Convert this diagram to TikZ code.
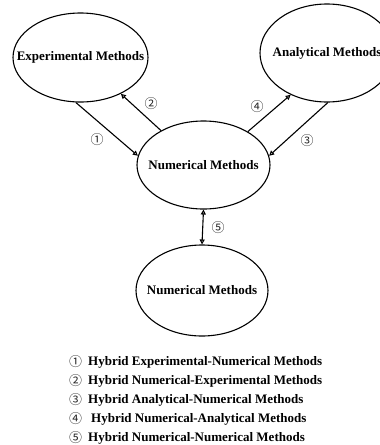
\documentclass[tikz,border=0pt]{standalone}
\usepackage{fontspec}
\setmainfont{Liberation Serif}
\newfontfamily\cjk{Noto Sans CJK SC}
\providecommand{\hmStroke}{black}
\providecommand{\hmFill}{white}
\usetikzlibrary{arrows.meta,shapes.geometric}
\tikzset{
  >={Triangle[open,length=5pt,width=5pt]},
  % method ellipse: width and height passed as two args
  meth/.style 2 args={draw=\hmStroke,ellipse,line width=1.1pt,fill=\hmFill,inner sep=0pt,minimum width=#1,minimum height=#2},
  methtxt/.style={font=\fontsize{13}{15}\selectfont\bfseries,inner sep=0pt},
  circnum/.style={font=\cjk\fontsize{13}{15}\selectfont,text=black!85,inner sep=0pt},
  legtxt/.style={anchor=west,font=\fontsize{13}{15}\selectfont\bfseries,inner sep=0pt},
  conn/.style={draw=\hmStroke,->,line width=1.1pt},
  biconn/.style={draw=\hmStroke,<->,line width=1.1pt},
}
\begin{document}
\begin{tikzpicture}[x=1pt,y=-1pt]
\useasboundingbox (0,0) rectangle (380,445);
% --- Method ellipses -------------------------------------------------------

  \node[meth={135pt}{89pt},label={[methtxt]center:Experimental Methods}] (exp) at (80.5,57.5) {};

  \node[meth={134pt}{98pt},label={[methtxt]center:Analytical Methods}] (ana) at (327,53) {};

  \node[meth={133pt}{88pt},label={[methtxt]center:Numerical Methods}] (num) at (203.5,165) {};

  \node[meth={132pt}{91pt},label={[methtxt]center:Numerical Methods}] (num2) at (202,290.5) {};

% --- Edges -----------------------------------------------------------------

  \path[conn] (exp.-96) -- (num.172);

  \path[conn] (num.141) -- (exp.-42);

  \path[conn] (num.37) -- (ana.229);

  \path[conn] (ana.-89) -- (num.8);

  \path[biconn] (num.south) -- (num2.north);

% --- Edge numbers ----------------------------------------------------------

  \node[circnum] (n1) at (97,140) {①};
  \node[circnum] (n2) at (151,104) {②};
  \node[circnum] (n3) at (307,141) {③};
  \node[circnum] (n4) at (257,107) {④};
  \node[circnum] (n5) at (218,228) {⑤};

% --- Legend ----------------------------------------------------------------

  \node[circnum] (k1) at (75.5,362) {①};
  \node[legtxt] (leg1) at (88,362) {Hybrid Experimental-Numerical Methods};

  \node[circnum] (k2) at (75.5,381) {②};
  \node[legtxt] (leg2) at (88,381) {Hybrid Numerical-Experimental Methods};

  \node[circnum] (k3) at (75.5,400) {③};
  \node[legtxt] (leg3) at (88,400) {Hybrid Analytical-Numerical Methods};

  \node[circnum] (k4) at (75.5,419) {④};
  \node[legtxt] (leg4) at (91,419) {Hybrid Numerical-Analytical Methods};

  \node[circnum] (k5) at (75.5,438) {⑤};
  \node[legtxt] (leg5) at (88,438) {Hybrid Numerical-Numerical Methods};

\end{tikzpicture}
\end{document}
